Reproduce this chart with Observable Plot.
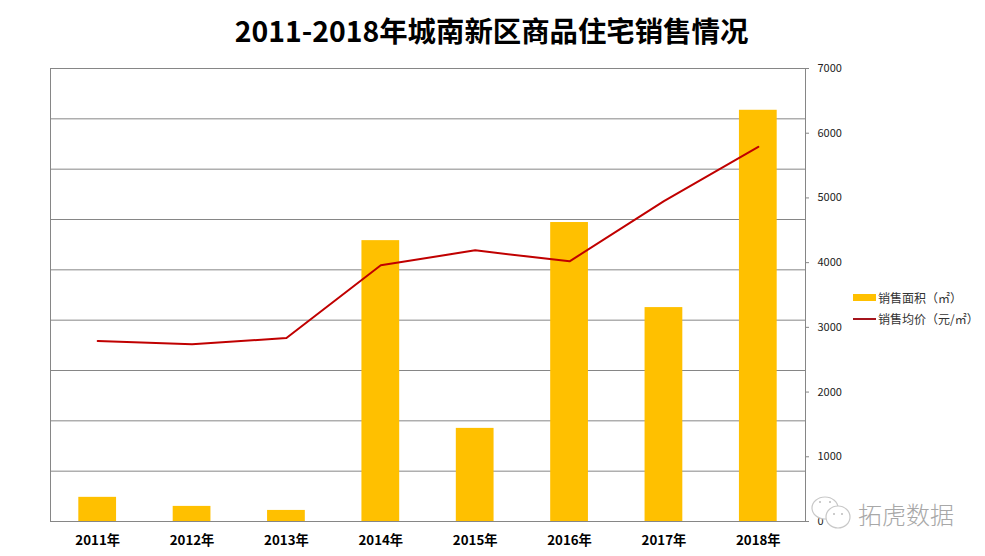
<!DOCTYPE html>
<html><head><meta charset="utf-8">
<script src="https://cdn.jsdelivr.net/npm/d3@7"></script>
<script src="https://cdn.jsdelivr.net/npm/@observablehq/plot@0.6"></script>
<style>
html,body{margin:0;padding:0;background:#fff;width:985px;height:556px;overflow:hidden;position:relative;font-family:"Noto Sans CJK SC",sans-serif}
#title{position:absolute;left:0;width:985px;top:9px;text-align:center;margin-left:-1px;font-size:28.4px;font-weight:700;line-height:42px;color:#000}
#chart{position:absolute;left:0;top:0}
#legend{position:absolute;left:853px;top:287px;font-size:12px;color:#333;line-height:21px}
#legend div{display:flex;align-items:center;height:21px;white-space:nowrap}
#legend i{display:block;width:23px;margin-right:2px}
#wm{position:absolute;left:811px;top:494px;display:flex;align-items:center}
#wm span{font-size:24px;margin-left:6px;color:#a8a8a8;font-weight:300}
</style></head><body>
<div id="chart"></div>
<div id="title">2011-2018年城南新区商品住宅销售情况</div>
<div id="legend">
<div><i style="height:7px;background:#FFC000"></i>销售面积（㎡）</div>
<div><i style="height:2px;background:#A5141C"></i>销售均价（元/㎡）</div>
</div>
<div id="wm"><svg width="41" height="38" viewBox="0 0 41 38"><g fill="#fff" stroke="#c8c8c8" stroke-width="1.2"><ellipse cx="14" cy="14" rx="13" ry="11"/><ellipse cx="27" cy="23" rx="12" ry="11"/></g><g fill="#bbb"><circle cx="9" cy="8" r="1"/><circle cx="19" cy="8" r="1"/><circle cx="23" cy="20" r="1"/><circle cx="31" cy="20" r="1"/></g></svg><span>拓虎数据</span></div>
<script>
const years=["2011年","2012年","2013年","2014年","2015年","2016年","2017年","2018年"];
const area=[48000,30000,22000,558000,185000,594000,425000,817000];
const price=[2790,2740,2835,3960,4190,4020,4950,5790];
const gridArea=[0,100000,200000,300000,400000,500000,600000,700000,800000,900000];
const priceTicks=[0,1000,2000,3000,4000,5000,6000,7000];
const k=7000/900000;
const rows=years.map((y,i)=>({year:y,area:area[i]*k,price:price[i]}));
const plot=Plot.plot({
  width:985,height:556,
  marginLeft:50,marginRight:180,marginTop:68,marginBottom:35,
  style:{fontFamily:'"Noto Sans CJK SC",sans-serif',background:"transparent"},
  x:{domain:years,paddingInner:0.6,paddingOuter:0.3,align:0.5,round:false,label:null},
  y:{domain:[0,7000],label:null},
  marks:[
    Plot.ruleY(gridArea.map(v=>v*k),{stroke:"#868686",strokeWidth:1,strokeOpacity:1}),
    Plot.barY(rows,{x:"year",y:"area",fill:"#FFC000"}),
    Plot.frame({stroke:"#868686",strokeWidth:1}),
    Plot.line(rows,{x:"year",y:"price",stroke:"#C00000",strokeWidth:2,curve:"linear"}),
    Plot.axisY(priceTicks,{anchor:"right",tickSize:3,tickPadding:9,stroke:"#868686",color:"#222",fontSize:11,label:null,tickFormat:d=>String(d)}),
    Plot.axisX({anchor:"bottom",tickSize:0,tickPadding:14,fontSize:13.3,fontWeight:700,color:"#000",label:null})
  ]
});
document.getElementById("chart").append(plot);
</script>
</body></html>
